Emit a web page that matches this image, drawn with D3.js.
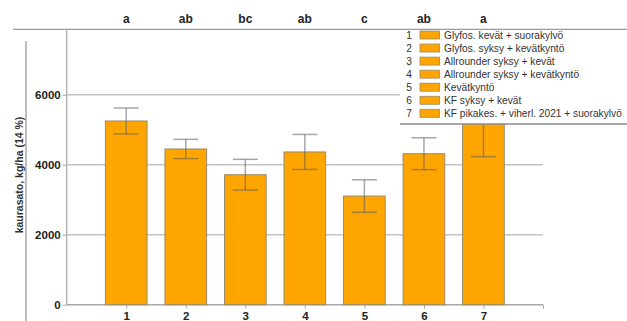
<!DOCTYPE html>
<html>
<head>
<meta charset="utf-8">
<script src="https://cdn.jsdelivr.net/npm/d3@7/dist/d3.min.js"></script>
<style>
  html, body { margin: 0; padding: 0; background: #fff; }
  svg { display: block; font-family: "Liberation Sans", Arial, sans-serif; }
</style>
</head>
<body>
<svg id="chart" width="627" height="321"></svg>
<script>
// Kaurasato käsittelyittäin (kg/ha, 14 %), keskiarvo ± keskivirhe
const categories = [1, 2, 3, 4, 5, 6, 7];
const yields = [5250, 4450, 3715, 4365, 3105, 4315, 5200];
const errors = [370, 275, 440, 500, 465, 455, 970];
const groupLetters = ["a", "ab", "bc", "ab", "c", "ab", "a"];
const treatments = [
  "Glyfos. kevät + suorakylvö",
  "Glyfos. syksy + kevätkyntö",
  "Allrounder syksy + kevät",
  "Allrounder syksy + kevätkyntö",
  "Kevätkyntö",
  "KF syksy + kevät",
  "KF pikakes. + viherl. 2021 + suorakylvö"
];
const yTicks = [0, 2000, 4000, 6000];
const yTitle = "kaurasato, kg/ha (14 %)";

const svg = d3.select("#chart");
const W = 627;
const plotLeft = 66.7, plotRight = 543, plotBottom = 304.7, plotTop = 29.3;

const x = d3.scaleLinear().domain([0, 8]).range([plotLeft, plotRight]);
const y = d3.scaleLinear().domain([0, 7870]).range([plotBottom, plotTop]);

const barColor = "#FFA500";
const gridColor = "#c4c4c4";

// frame lines
svg.append("line").attr("x1", 13).attr("x2", W).attr("y1", plotTop).attr("y2", plotTop)
  .attr("stroke", "#9a9a9a").attr("stroke-width", 1.3);
svg.append("line").attr("x1", 26).attr("x2", 26).attr("y1", 41).attr("y2", 321)
  .attr("stroke", "#9a9a9a").attr("stroke-width", 1.3);

// horizontal grid
svg.append("g").selectAll("line").data(yTicks.filter(d => d > 0)).join("line")
  .attr("x1", plotLeft).attr("x2", plotRight)
  .attr("y1", d => y(d)).attr("y2", d => y(d))
  .attr("stroke", gridColor).attr("stroke-width", 1.5);

// y axis
const yAxis = svg.append("g").attr("transform", `translate(${plotLeft},0)`)
  .call(d3.axisLeft(y).tickValues(yTicks).tickSize(4).tickPadding(2).tickFormat(d3.format("d")));
yAxis.select(".domain").attr("stroke", "#a8a8a8").attr("stroke-width", 1.2)
  .attr("d", `M0,${plotTop}V${plotBottom}`);
yAxis.selectAll(".tick line").attr("stroke", "#a8a8a8");
yAxis.selectAll(".tick text").attr("font-size", 11.5).attr("font-weight", "bold")
  .attr("fill", "#222").attr("font-family", "Liberation Sans, Arial, sans-serif");

// x axis
const xAxis = svg.append("g").attr("transform", `translate(0,${plotBottom})`)
  .call(d3.axisBottom(x).tickValues([...categories, 8]).tickSize(4).tickPadding(3)
    .tickFormat(d => categories.includes(d) ? d : ""));
xAxis.select(".domain").attr("stroke", "#a8a8a8").attr("stroke-width", 1.5)
  .attr("d", `M${plotLeft},0H${plotRight}`);
xAxis.selectAll(".tick line").attr("stroke", "#a8a8a8");
xAxis.selectAll(".tick text").attr("font-size", 11.5).attr("font-weight", "bold")
  .attr("fill", "#222").attr("font-family", "Liberation Sans, Arial, sans-serif");

// y title
svg.append("text")
  .attr("transform", `translate(19,${(plotTop + plotBottom) / 2 + 8}) rotate(-90)`)
  .attr("text-anchor", "middle").attr("dominant-baseline", "central")
  .attr("font-size", 10.5).attr("font-weight", "bold").attr("fill", "#333")
  .text(yTitle);

// bars
const bw = 0.7;
svg.append("g").selectAll("rect").data(categories).join("rect")
  .attr("x", (d) => x(d - bw / 2))
  .attr("width", x(bw) - x(0))
  .attr("y", (d, i) => y(yields[i]))
  .attr("height", (d, i) => y(0) - y(yields[i]))
  .attr("fill", barColor).attr("stroke", "#9c8a6a").attr("stroke-width", 1);

// error bars
const cap = 0.21;
const eb = svg.append("g").attr("stroke", "rgba(95,95,95,0.55)").attr("stroke-width", 1.5);
categories.forEach((c, i) => {
  const hi = yields[i] + errors[i], lo = yields[i] - errors[i];
  eb.append("line").attr("x1", x(c)).attr("x2", x(c)).attr("y1", y(hi)).attr("y2", y(lo));
  eb.append("line").attr("x1", x(c - cap)).attr("x2", x(c + cap)).attr("y1", y(hi)).attr("y2", y(hi));
  eb.append("line").attr("x1", x(c - cap)).attr("x2", x(c + cap)).attr("y1", y(lo)).attr("y2", y(lo));
});

// significance letters
svg.append("g").selectAll("text").data(categories).join("text")
  .attr("x", d => x(d)).attr("y", 18.5)
  .attr("text-anchor", "middle").attr("dominant-baseline", "central")
  .attr("font-size", 12).attr("font-weight", "bold").attr("fill", "#222")
  .text((d, i) => groupLetters[i]);

// legend
const lg = svg.append("g");
lg.append("rect").attr("x", 400).attr("y", plotTop + 0.7).attr("width", W - 400).attr("height", 124 - plotTop - 0.7)
  .attr("fill", "#fff");
lg.append("line").attr("x1", 400).attr("x2", W).attr("y1", 124).attr("y2", 124)
  .attr("stroke", "#8a8a8a").attr("stroke-width", 1.5);
const rowY = i => 35 + i * 13.05;
const legendFont = 10.2;
treatments.forEach((t, i) => {
  lg.append("text").attr("x", 412).attr("y", rowY(i)).attr("text-anchor", "end")
    .attr("dominant-baseline", "central").attr("font-size", legendFont).attr("fill", "#333")
    .text(categories[i]);
  lg.append("rect").attr("x", 420).attr("y", rowY(i) - 4).attr("width", 19.5).attr("height", 8)
    .attr("fill", barColor).attr("stroke", "#9c8a6a").attr("stroke-width", 0.8);
  const lbl = lg.append("text").attr("x", 444).attr("y", rowY(i))
    .attr("dominant-baseline", "central").attr("font-size", legendFont).attr("fill", "#333")
    .text(t);
  // keep the longest label inside the legend box
  const maxW = 178;
  if (lbl.node().getComputedTextLength() > maxW) {
    lbl.attr("textLength", maxW).attr("lengthAdjust", "spacingAndGlyphs");
  }
});
</script>
</body>
</html>
